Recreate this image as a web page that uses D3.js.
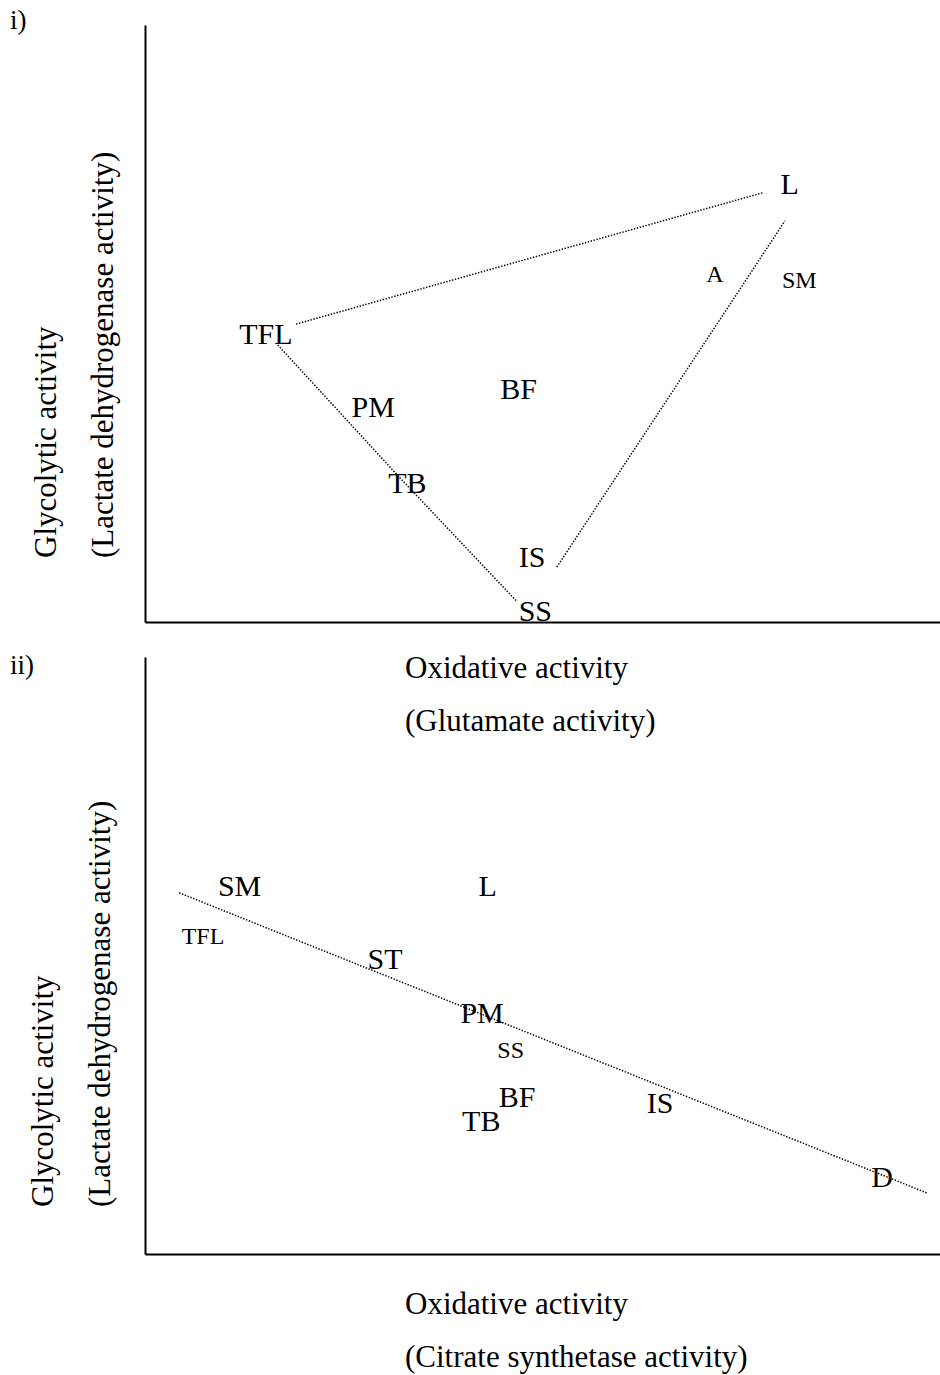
<!DOCTYPE html>
<html>
<head>
<meta charset="utf-8">
<script src="https://cdn.jsdelivr.net/npm/d3@7"></script>
<style>
  html, body { margin: 0; padding: 0; background: #fff; }
  svg text { font-family: "Liberation Serif", "Times New Roman", serif; fill: #000; }
</style>
</head>
<body>
<svg id="chart" width="940" height="1375"></svg>
<script>
// ---- Panel i) : Glutamate (oxidative) vs LDH (glycolytic), relative units 0-100 ----
const labelsTop = ["L", "A", "SM", "TFL", "PM", "BF", "TB", "IS", "SS"];
const xTop      = [81.1, 71.7, 82.3, 15.2, 28.7, 47.0, 33.0, 48.7, 49.1];
const yTop      = [71.7, 57.0, 55.9, 46.6, 34.3, 37.4, 21.6, 9.2, 0.2];
const smallTop  = ["A", "SM"];

// dotted guide lines of panel i)
const lineTopA = [[19.0, 49.9], [77.7, 71.9]];
const lineTopB = [[16.7, 46.4], [32.1, 24.1], [46.8, 3.4]];
const lineTopC = [[51.8, 9.2], [80.5, 67.2]];

// ---- Panel ii) : Citrate synthetase (oxidative) vs LDH (glycolytic) ----
const labelsBot = ["SM", "L", "TFL", "ST", "PM", "SS", "BF", "TB", "IS", "D"];
const xBot      = [11.9, 43.1, 7.3, 30.2, 42.4, 46.0, 46.8, 42.3, 64.8, 92.7];
const yBot      = [60.0, 60.0, 51.9, 47.7, 38.7, 32.8, 24.6, 20.6, 23.6, 11.2];
const smallBot  = ["TFL", "SS"];

const lineBot = [[4.3, 60.5], [98.4, 10.2]];

// axis titles
const xTitleTop = ["Oxidative activity", "(Glutamate activity)"];
const xTitleBot = ["Oxidative activity", "(Citrate synthetase activity)"];
const yTitle    = ["Glycolytic activity", "(Lactate dehydrogenase activity)"];
const panelTags = ["i)", "ii)"];

const svg = d3.select("#chart");

function drawPanel(cfg) {
  const x = d3.scaleLinear().domain([0, 100]).range([145, 940]);
  const y = d3.scaleLinear().domain([0, 100]).range([cfg.bottom, cfg.top]);
  const g = svg.append("g");

  // axes (no ticks)
  g.append("g").attr("transform", `translate(0,${cfg.bottom})`)
    .call(d3.axisBottom(x).tickValues([]).tickSizeOuter(0));
  g.append("g").attr("transform", `translate(145,0)`)
    .call(d3.axisLeft(y).tickValues([]).tickSizeOuter(0));
  g.selectAll(".domain").attr("stroke", "#000").attr("stroke-width", 2);

  // dotted lines
  const line = d3.line().x(d => x(d[0])).y(d => y(d[1]));
  g.selectAll("path.guide").data(cfg.lines).enter().append("path")
    .attr("class", "guide")
    .attr("d", line)
    .attr("fill", "none")
    .attr("stroke", "#000")
    .attr("stroke-width", 1.5)
    .attr("stroke-dasharray", "1.4,1.6");

  // labels
  const pts = cfg.labels.map((t, i) => ({ t, x: cfg.xs[i], y: cfg.ys[i] }));
  g.selectAll("text.pt").data(pts).enter().append("text")
    .attr("class", "pt")
    .attr("x", d => x(d.x))
    .attr("y", d => y(d.y))
    .attr("text-anchor", "middle")
    .style("font-size", d => cfg.small.includes(d.t) ? "24px" : "30px")
    .text(d => d.t);

  // x-axis titles
  g.selectAll("text.xt").data(cfg.xTitle).enter().append("text")
    .attr("class", "xt")
    .attr("x", 405)
    .attr("y", (d, i) => cfg.xTitleY + i * 53)
    .style("font-size", "31px")
    .text(d => d);

  // y-axis titles (rotated)
  g.selectAll("text.yt").data(yTitle).enter().append("text")
    .attr("class", "yt")
    .attr("transform", (d, i) => `translate(${cfg.yTitleX[i]},${cfg.yTitleStart}) rotate(-90)`)
    .style("font-size", "31px")
    .text(d => d);

  // panel tag
  g.append("text")
    .attr("x", 10)
    .attr("y", cfg.tagY)
    .style("font-size", "27px")
    .text(cfg.tag);
}

drawPanel({
  top: 25, bottom: 622,
  labels: labelsTop, xs: xTop, ys: yTop, small: smallTop,
  lines: [lineTopA, lineTopB, lineTopC],
  xTitle: xTitleTop, xTitleY: 678,
  yTitleStart: 558, yTitleX: [56, 113], tag: panelTags[0], tagY: 29
});

drawPanel({
  top: 657, bottom: 1254,
  labels: labelsBot, xs: xBot, ys: yBot, small: smallBot,
  lines: [lineBot],
  xTitle: xTitleBot, xTitleY: 1314,
  yTitleStart: 1207, yTitleX: [53, 110], tag: panelTags[1], tagY: 674
});
</script>
</body>
</html>
